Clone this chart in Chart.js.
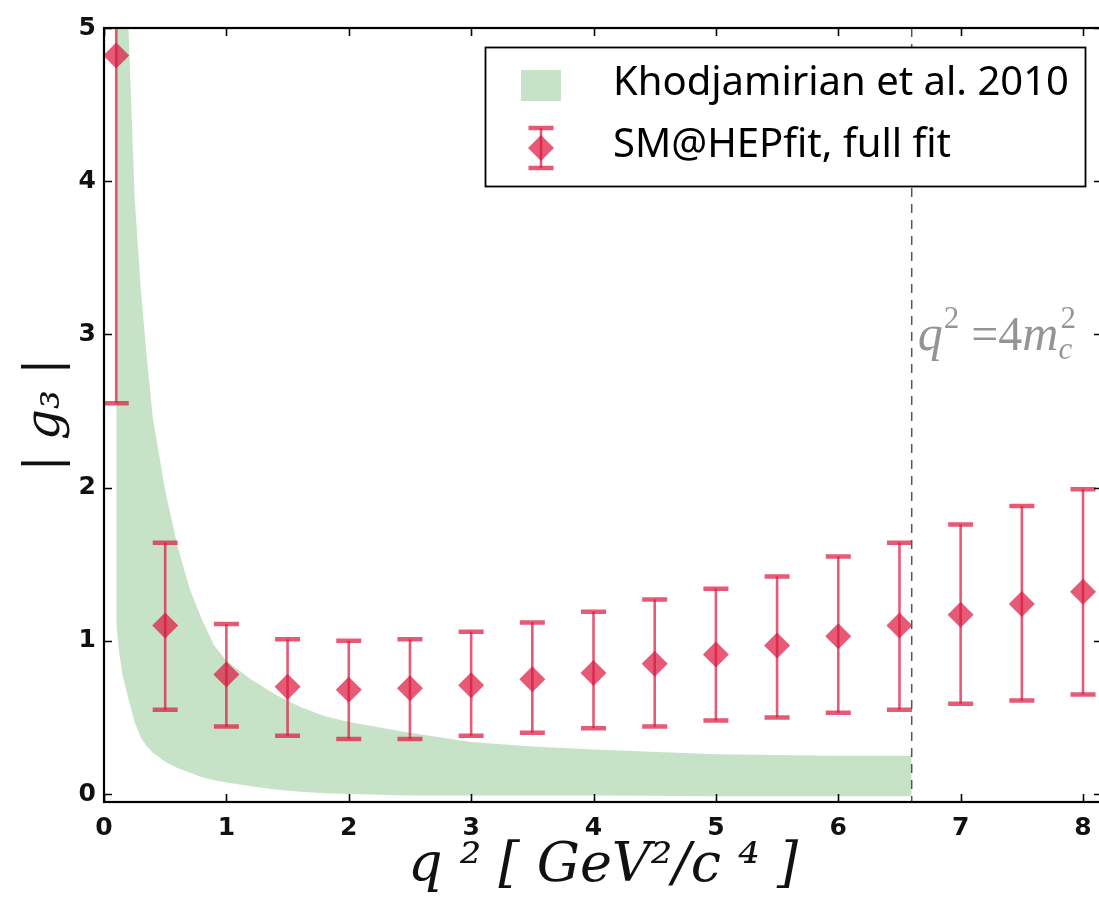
<!DOCTYPE html>
<html>
<head>
<meta charset="utf-8">
<script src="https://cdn.jsdelivr.net/npm/chart.js@4.4.0/dist/chart.umd.min.js"></script>
<style>
html,body{margin:0;padding:0;background:#fff;overflow:hidden;}
#wrap{position:relative;width:1099px;height:913px;overflow:hidden;}
#c{display:block;}
</style>
</head>
<body>
<div id="wrap"><canvas id="c" width="1106" height="913" style="width:1106px;height:913px"></canvas></div>
<script>
// ---------- data ----------
const q2Points   = [0.1, 0.5, 1.0, 1.5, 2.0, 2.5, 3.0, 3.5, 4.0, 4.5, 5.0, 5.5, 6.0, 6.5, 7.0, 7.5, 8.0];
const g3Central  = [4.82, 1.10, 0.78, 0.70, 0.68, 0.69, 0.71, 0.75, 0.79, 0.85, 0.91, 0.97, 1.03, 1.10, 1.17, 1.24, 1.32];
const g3Low      = [2.55, 0.55, 0.44, 0.38, 0.36, 0.36, 0.38, 0.40, 0.43, 0.44, 0.48, 0.50, 0.53, 0.55, 0.59, 0.61, 0.65];
const g3High     = [7.00, 1.64, 1.11, 1.01, 1.00, 1.01, 1.06, 1.12, 1.19, 1.27, 1.34, 1.42, 1.55, 1.64, 1.76, 1.88, 1.99];

const bandQ2     = [0.1, 0.12, 0.15, 0.2, 0.25, 0.3, 0.35, 0.4, 0.5, 0.6, 0.7, 0.8, 0.9, 1.0, 1.2, 1.4, 1.6, 1.8, 2.0, 2.5, 3.0, 3.5, 4.0, 5.0, 6.0, 6.6];
const bandUpper  = [10.0, 8.3, 6.6, 5.0, 3.9, 3.3, 2.85, 2.45, 1.98, 1.62, 1.34, 1.14, 0.97, 0.87, 0.75, 0.65, 0.57, 0.51, 0.47, 0.40, 0.34, 0.31, 0.29, 0.26, 0.25, 0.25];
const bandLower  = [1.12, 0.95, 0.78, 0.62, 0.47, 0.37, 0.31, 0.27, 0.21, 0.17, 0.14, 0.11, 0.09, 0.075, 0.05, 0.03, 0.015, 0.005, 0.0, -0.01, -0.01, -0.01, -0.01, -0.015, -0.015, -0.015];

const xTicks = [0, 1, 2, 3, 4, 5, 6, 7, 8];
const yTicks = [0, 1, 2, 3, 4, 5];
const thresholdQ2 = 6.6;

const seriesLabels = ['Khodjamirian et al. 2010', 'SM@HEPfit, full fit'];
const xTitle = 'q ² [ GeV²/c ⁴ ]';
const yTitle = '| g₃ |';

// ---------- styles ----------
const CRIMSON = 'rgba(220,20,60,0.70)';
const GREEN = 'rgba(0,128,0,0.22)';

const insideTicks = {
  id: 'insideTicks',
  afterDraw(chart) {
    const {ctx, chartArea: a, scales: {x, y}} = chart;
    ctx.save();
    ctx.strokeStyle = '#000';
    ctx.lineWidth = 1.6;
    const L = 8;
    ctx.beginPath();
    xTicks.forEach(v => {
      const px = Math.round(x.getPixelForValue(v)) + 0.5;
      ctx.moveTo(px, a.bottom); ctx.lineTo(px, a.bottom - L);
      ctx.moveTo(px, a.top); ctx.lineTo(px, a.top + L);
    });
    yTicks.forEach(v => {
      const py = Math.round(y.getPixelForValue(v)) + 0.5;
      ctx.moveTo(a.left, py); ctx.lineTo(a.left + L, py);
      ctx.moveTo(a.right, py); ctx.lineTo(a.right - L, py);
    });
    ctx.stroke();
    ctx.lineWidth = 2.2;
    ctx.strokeRect(a.left, a.top, a.right - a.left, a.bottom - a.top);
    ctx.restore();
  }
};

const errorBars = {
  id: 'errorBars',
  beforeDatasetDraw(chart, args) {
    if (args.index !== 2) return;
    const {ctx, chartArea: a, scales: {x, y}} = chart;
    ctx.save();
    ctx.beginPath(); ctx.rect(a.left, a.top, a.right - a.left, a.bottom - a.top); ctx.clip();
    ctx.strokeStyle = CRIMSON;
    q2Points.forEach((q, i) => {
      const px = x.getPixelForValue(q);
      const pl = y.getPixelForValue(g3Low[i]);
      const ph = y.getPixelForValue(g3High[i]);
      ctx.lineWidth = 2.6;
      ctx.beginPath(); ctx.moveTo(px, pl); ctx.lineTo(px, ph); ctx.stroke();
      ctx.lineWidth = 4.5;
      ctx.beginPath();
      ctx.moveTo(px - 12.5, pl); ctx.lineTo(px + 12.5, pl);
      ctx.moveTo(px - 12.5, ph); ctx.lineTo(px + 12.5, ph);
      ctx.stroke();
    });
    ctx.restore();
  }
};

const threshold = {
  id: 'threshold',
  afterDatasetsDraw(chart) {
    const {ctx, chartArea: a, scales: {x, y}} = chart;
    const px = x.getPixelForValue(thresholdQ2);
    ctx.save();
    ctx.strokeStyle = '#555';
    ctx.lineWidth = 1.5;
    ctx.setLineDash([9, 7]);
    ctx.beginPath(); ctx.moveTo(px, a.top); ctx.lineTo(px, a.bottom); ctx.stroke();
    ctx.setLineDash([]);
    // label q^2 = 4 m_c^2
    ctx.fillStyle = 'rgba(0,0,0,0.42)';
    ctx.textBaseline = 'alphabetic';
    let cx = px + 6;
    const base = y.getPixelForValue(2.9);
    const big = 'italic 50px "Liberation Serif"';
    const up = '48px "Liberation Serif"';
    const small = '31px "Liberation Serif"';
    ctx.font = big; ctx.fillText('q', cx, base); cx += ctx.measureText('q').width + 1;
    ctx.font = small; ctx.fillText('2', cx, base - 22); cx += ctx.measureText('2').width + 12;
    ctx.font = up; ctx.fillText('=4', cx, base); cx += ctx.measureText('=4').width;
    ctx.font = big; ctx.fillText('m', cx, base); cx += ctx.measureText('m').width;
    ctx.font = 'italic 31px "Liberation Serif"'; ctx.fillText('c', cx, base + 9);
    ctx.font = small; ctx.fillText('2', cx + 2, base - 22);
    ctx.restore();
  }
};

const boxLegend = {
  id: 'boxLegend',
  afterDraw(chart) {
    const {ctx} = chart;
    ctx.save();
    const L = 485, T = 47, R = 1085, B = 186;
    ctx.fillStyle = '#fff';
    ctx.fillRect(L, T, R - L, B - T);
    ctx.strokeStyle = '#000';
    ctx.lineWidth = 1.8;
    ctx.strokeRect(L + 0.5, T + 0.5, R - L, B - T);
    // row 1 : band swatch
    ctx.fillStyle = GREEN;
    ctx.fillRect(521, 70, 40, 31);
    // row 2 : error bar icon
    const cx = 541, cy = 148;
    ctx.strokeStyle = CRIMSON;
    ctx.lineWidth = 2.6;
    ctx.beginPath(); ctx.moveTo(cx, 128); ctx.lineTo(cx, 168); ctx.stroke();
    ctx.lineWidth = 4.5;
    ctx.beginPath();
    ctx.moveTo(cx - 12.5, 128); ctx.lineTo(cx + 12.5, 128);
    ctx.moveTo(cx - 12.5, 168); ctx.lineTo(cx + 12.5, 168);
    ctx.stroke();
    ctx.fillStyle = CRIMSON;
    ctx.beginPath();
    ctx.moveTo(cx, cy - 13); ctx.lineTo(cx + 13, cy); ctx.lineTo(cx, cy + 13); ctx.lineTo(cx - 13, cy);
    ctx.closePath(); ctx.fill();
    // labels
    ctx.fillStyle = '#000';
    ctx.font = '40px "Noto Sans"';
    ctx.textBaseline = 'middle';
    ctx.fillText(seriesLabels[0], 613, 84);
    ctx.fillText(seriesLabels[1], 613, 146);
    ctx.restore();
  }
};

const ctx = document.getElementById('c').getContext('2d');
new Chart(ctx, {
  data: {
    datasets: [
      {
        type: 'line',
        label: seriesLabels[0],
        data: bandQ2.map((q, i) => ({x: q, y: bandUpper[i]})),
        borderColor: 'transparent',
        borderWidth: 0,
        pointRadius: 0,
        tension: 0,
        backgroundColor: GREEN,
        fill: '+1',
        order: 3
      },
      {
        type: 'line',
        label: seriesLabels[0] + ' (lower)',
        data: bandQ2.map((q, i) => ({x: q, y: bandLower[i]})),
        borderColor: 'transparent',
        borderWidth: 0,
        pointRadius: 0,
        tension: 0,
        fill: false,
        order: 3
      },
      {
        type: 'scatter',
        label: seriesLabels[1],
        data: q2Points.map((q, i) => ({x: q, y: g3Central[i]})),
        pointStyle: 'rectRot',
        pointRadius: 13,
        pointHoverRadius: 13,
        backgroundColor: CRIMSON,
        borderColor: 'transparent',
        borderWidth: 0,
        order: 1
      }
    ]
  },
  options: {
    responsive: false,
    maintainAspectRatio: false,
    animation: false,
    devicePixelRatio: 1,
    layout: {autoPadding: false, padding: {left: 0, top: 28, right: 4, bottom: 0}},
    plugins: {legend: {display: false}, tooltip: {enabled: false}},
    scales: {
      x: {
        type: 'linear',
        min: 0,
        max: 8.155,
        afterFit: s => { s.height = 111; s.paddingLeft = 0; s.paddingRight = 0; },
        afterBuildTicks: s => { s.ticks = xTicks.map(v => ({value: v})); },
        grid: {display: false, drawTicks: false},
        border: {display: false},
        ticks: {
          color: '#111',
          font: {family: '"DejaVu Sans"', size: 25, weight: 'bold'},
          padding: 11,
          maxRotation: 0,
          callback: v => String(v)
        },
        title: {
          display: true,
          text: xTitle,
          color: '#111',
          font: {family: '"DejaVu Serif"', size: 54, style: 'italic'},
          padding: {top: 0, bottom: 14}
        }
      },
      y: {
        type: 'linear',
        min: -0.052,
        max: 5,
        afterFit: s => { s.width = 104; s.paddingTop = 0; s.paddingBottom = 0; },
        afterBuildTicks: s => { s.ticks = yTicks.map(v => ({value: v})); },
        grid: {display: false, drawTicks: false},
        border: {display: false},
        ticks: {
          color: '#111',
          font: {family: '"DejaVu Sans"', size: 25, weight: 'bold'},
          padding: 8,
          callback: v => String(v)
        },
        title: {
          display: true,
          text: yTitle,
          color: '#111',
          font: {family: '"DejaVu Serif"', size: 48, style: 'italic'},
          padding: {top: 18, bottom: 0}
        }
      }
    }
  },
  plugins: [errorBars, threshold, insideTicks, boxLegend]
});
</script>
</body>
</html>
